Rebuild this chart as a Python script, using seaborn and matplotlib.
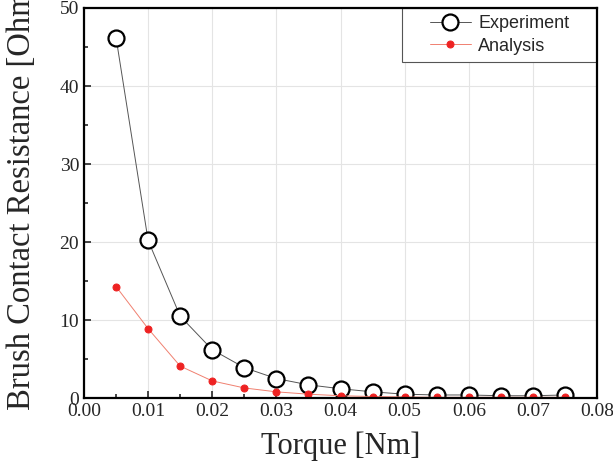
import numpy as np
import pandas as pd
import matplotlib
matplotlib.use("Agg")
import matplotlib.pyplot as plt
import seaborn as sns
from matplotlib.ticker import MultipleLocator, FormatStrFormatter
from matplotlib.patches import Rectangle

# 数据
torque = [0.005, 0.010, 0.015, 0.020, 0.025, 0.030, 0.035, 0.040,
          0.045, 0.050, 0.055, 0.060, 0.065, 0.070, 0.075]
experiment = [46.2, 20.2, 10.5, 6.2, 3.9, 2.5, 1.7, 1.2,
              0.8, 0.5, 0.4, 0.4, 0.3, 0.3, 0.4]
analysis = [14.3, 8.9, 4.1, 2.2, 1.3, 0.8, 0.5, 0.3,
            0.2, 0.15, 0.1, 0.1, 0.1, 0.1, 0.1]

sns.set_style("ticks")
plt.rcParams['font.family'] = ['Liberation Serif', 'DejaVu Serif']

fig = plt.figure(figsize=(6.13, 4.70), dpi=100)
ax = fig.add_axes([0.137, 0.153, 0.837, 0.830])

sns.lineplot(x=torque, y=experiment, ax=ax, color='#555555', linewidth=0.7,
             marker='o', markersize=11.5, markerfacecolor='white',
             markeredgecolor='black', markeredgewidth=1.6, label='Experiment',
             zorder=3)
sns.lineplot(x=torque, y=analysis, ax=ax, color='#f08070', linewidth=0.7,
             marker='o', markersize=5, markerfacecolor='#ee2222',
             markeredgecolor='#ee2222', label='Analysis', zorder=4)

ax.set_xlim(0, 0.08)
ax.set_ylim(0, 50)
ax.xaxis.set_major_locator(MultipleLocator(0.01))
ax.xaxis.set_minor_locator(MultipleLocator(0.005))
ax.xaxis.set_major_formatter(FormatStrFormatter('%.2f'))
ax.yaxis.set_major_locator(MultipleLocator(10))
ax.yaxis.set_minor_locator(MultipleLocator(5))
ax.tick_params(which='both', direction='in', labelsize=14, width=1.2)
ax.tick_params(which='major', length=5)
ax.tick_params(which='minor', length=3)
ax.grid(True, which='major', color='#e4e4e4', linewidth=0.8)
ax.set_axisbelow(True)
for s in ax.spines.values():
    s.set_linewidth(1.6)
    s.set_color('black')
    s.set_zorder(6)

ax.set_xlabel("Torque [Nm]", fontsize=22, labelpad=8)
ax.set_ylabel("Brush Contact Resistance [Ohm]", fontsize=23.5)
ax.yaxis.set_label_coords(-0.092, 0.52)

# 图例框
box = Rectangle((0.62, 0.862), 0.38, 0.138, transform=ax.transAxes,
                facecolor='white', edgecolor='#555555', linewidth=0.8, zorder=5)
ax.add_patch(box)
leg = ax.legend(loc='center', bbox_to_anchor=(0.81, 0.931),
                prop={'family': 'Liberation Sans', 'size': 13},
                frameon=False, handlelength=2.3, handletextpad=0.4,
                labelspacing=0.3)
leg.set_zorder(7)

fig.savefig("out.png", dpi=100)
